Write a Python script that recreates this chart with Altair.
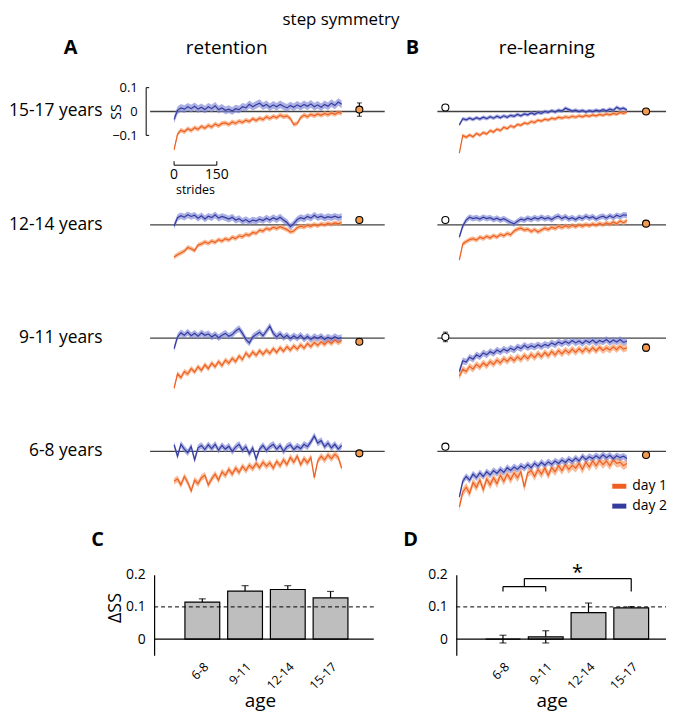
import altair as alt
import pandas as pd

FONT = "Open Sans"

# ---------------- data ----------------
STRIDES = list(range(0, 600, 12))          # sampled stride index
ROW_LABELS = ["15-17 years", "12-14 years", "9-11 years", "6-8 years"]
DAYS = ["day 1", "day 2"]
AGES = ["6-8", "9-11", "12-14", "15-17"]
SCALE_BAR = [0, 150]                        # strides scale bar ticks

# retention (panel A), rows top -> bottom
A1_D1 = [-0.160,-0.095,-0.078,-0.085,-0.072,-0.080,-0.068,-0.075,-0.062,-0.070,
         -0.058,-0.065,-0.052,-0.060,-0.050,-0.048,-0.055,-0.044,-0.050,-0.040,
         -0.046,-0.036,-0.042,-0.030,-0.038,-0.028,-0.034,-0.022,-0.030,-0.020,
         -0.026,-0.015,-0.022,-0.018,-0.030,-0.055,-0.050,-0.026,-0.015,-0.022,
         -0.012,-0.018,-0.010,-0.016,-0.008,-0.014,-0.006,-0.012,-0.004,-0.008]
A1_D2 = [-0.033,0.005,0.015,0.010,0.020,0.012,0.022,0.010,0.018,0.008,
         0.020,0.012,0.024,0.008,0.015,0.005,0.010,0.002,0.012,0.008,
         0.020,0.015,0.030,0.020,0.028,0.035,0.022,0.030,0.018,0.028,
         0.020,0.030,0.022,0.015,0.025,0.018,0.028,0.020,0.030,0.022,
         0.032,0.020,0.028,0.018,0.030,0.022,0.035,0.025,0.040,0.030]
A2_D1 = [-0.135,-0.125,-0.118,-0.110,-0.095,-0.100,-0.108,-0.085,-0.080,-0.072,
         -0.078,-0.068,-0.074,-0.062,-0.068,-0.058,-0.064,-0.052,-0.058,-0.046,
         -0.050,-0.040,-0.044,-0.032,-0.036,-0.022,-0.026,-0.015,-0.020,-0.010,
         -0.016,-0.008,-0.014,-0.020,-0.030,-0.026,-0.012,-0.006,-0.010,-0.002,
         -0.006,0.002,-0.004,0.004,0.000,0.006,0.002,0.008,0.004,0.010]
A2_D2 = [-0.005,0.030,0.038,0.032,0.042,0.035,0.040,0.028,0.038,0.025,
         0.036,0.030,0.042,0.028,0.035,0.030,0.024,0.032,0.020,0.026,
         0.015,0.022,0.012,0.020,0.016,0.024,0.018,0.028,0.020,0.030,
         0.022,0.032,0.020,0.010,-0.008,0.005,0.022,0.030,0.025,0.035,
         0.028,0.040,0.030,0.036,0.028,0.034,0.030,0.036,0.030,0.034]
A3_D1 = [-0.210,-0.150,-0.165,-0.140,-0.150,-0.128,-0.142,-0.120,-0.135,-0.112,
         -0.128,-0.105,-0.120,-0.098,-0.115,-0.092,-0.105,-0.085,-0.098,-0.075,
         -0.090,-0.062,-0.078,-0.058,-0.072,-0.052,-0.068,-0.050,-0.064,-0.044,
         -0.060,-0.040,-0.055,-0.036,-0.050,-0.032,-0.046,-0.028,-0.042,-0.022,
         -0.036,-0.018,-0.030,-0.015,-0.026,-0.012,-0.022,-0.008,-0.018,-0.010]
A3_D2 = [-0.044,0.005,0.022,0.012,0.025,0.010,0.020,0.008,0.022,0.012,
         0.018,0.005,0.015,0.002,0.012,0.020,0.008,0.015,0.030,0.040,
         0.020,-0.005,-0.020,0.005,0.015,0.025,0.010,0.030,0.050,0.020,
         0.005,0.018,0.002,0.012,-0.002,0.010,0.000,0.012,-0.004,0.008,
         -0.006,0.006,-0.002,0.008,-0.006,0.004,-0.004,0.006,-0.002,0.002]
A4_D1 = [-0.125,-0.115,-0.140,-0.105,-0.130,-0.165,-0.120,-0.135,-0.110,-0.100,
         -0.140,-0.115,-0.095,-0.120,-0.085,-0.100,-0.075,-0.095,-0.070,-0.088,
         -0.062,-0.080,-0.058,-0.072,-0.050,-0.068,-0.045,-0.062,-0.048,-0.070,
         -0.042,-0.060,-0.035,-0.055,-0.025,-0.045,-0.020,-0.055,-0.030,-0.048,
         -0.025,-0.110,-0.040,-0.020,-0.035,-0.015,-0.030,-0.012,-0.025,-0.070]
A4_D2 = [0.028,-0.020,0.030,0.010,-0.005,0.020,-0.035,0.015,0.025,0.008,
         0.028,0.012,0.030,0.005,0.025,0.010,0.022,0.000,0.018,0.030,
         0.005,0.020,-0.010,0.015,-0.032,0.010,0.025,0.005,0.020,0.030,
         0.010,0.025,0.000,0.020,0.028,0.008,0.022,0.012,0.030,0.020,
         0.040,0.065,0.035,0.045,0.020,0.035,0.015,0.030,0.010,0.025]

# re-learning (panel B), rows top -> bottom
B1_D1 = [-0.174,-0.100,-0.108,-0.098,-0.106,-0.092,-0.100,-0.088,-0.094,-0.080,
         -0.086,-0.074,-0.080,-0.066,-0.072,-0.060,-0.066,-0.054,-0.058,-0.048,
         -0.052,-0.042,-0.046,-0.036,-0.040,-0.032,-0.036,-0.028,-0.032,-0.024,
         -0.028,-0.022,-0.026,-0.020,-0.024,-0.018,-0.022,-0.016,-0.020,-0.014,
         -0.018,-0.012,-0.016,-0.010,-0.014,-0.008,-0.012,-0.004,-0.008,-0.002]
B1_D2 = [-0.056,-0.030,-0.035,-0.028,-0.034,-0.026,-0.032,-0.024,-0.030,-0.022,
         -0.028,-0.020,-0.026,-0.018,-0.024,-0.016,-0.020,-0.012,-0.018,-0.010,
         -0.014,-0.006,-0.012,-0.004,-0.008,0.000,-0.004,0.004,-0.002,0.006,
         0.002,0.014,0.008,0.002,0.006,0.000,0.005,-0.002,0.004,0.000,
         0.006,0.002,0.008,0.003,0.010,0.005,0.018,0.010,0.014,0.006]
B2_D1 = [-0.147,-0.080,-0.070,-0.062,-0.058,-0.064,-0.052,-0.058,-0.048,-0.055,
         -0.045,-0.052,-0.040,-0.046,-0.036,-0.042,-0.026,-0.018,-0.014,-0.022,
         -0.018,-0.028,-0.020,-0.030,-0.022,-0.014,-0.020,-0.010,-0.016,-0.006,
         -0.012,-0.004,-0.010,-0.002,-0.008,0.000,-0.006,0.002,-0.004,0.004,
         -0.002,0.006,0.000,0.008,0.002,0.012,0.004,0.016,0.008,0.018]
B2_D2 = [-0.051,-0.005,0.020,0.032,0.026,0.030,0.024,0.032,0.026,0.030,
         0.022,0.028,0.020,0.026,0.018,0.010,0.004,0.015,0.024,0.020,
         0.028,0.022,0.030,0.024,0.032,0.025,0.030,0.022,0.032,0.036,
         0.026,0.034,0.024,0.030,0.022,0.032,0.026,0.036,0.028,0.034,
         0.024,0.032,0.036,0.028,0.038,0.030,0.040,0.034,0.042,0.040]
B3_D1 = [-0.160,-0.130,-0.140,-0.118,-0.130,-0.110,-0.122,-0.104,-0.116,-0.098,
         -0.110,-0.092,-0.104,-0.086,-0.098,-0.082,-0.094,-0.078,-0.090,-0.072,
         -0.086,-0.068,-0.082,-0.064,-0.078,-0.060,-0.074,-0.056,-0.070,-0.052,
         -0.066,-0.050,-0.062,-0.046,-0.060,-0.044,-0.058,-0.042,-0.056,-0.040,
         -0.054,-0.038,-0.052,-0.040,-0.050,-0.036,-0.048,-0.034,-0.046,-0.040]
B3_D2 = [-0.140,-0.095,-0.100,-0.080,-0.088,-0.070,-0.078,-0.062,-0.070,-0.056,
         -0.064,-0.050,-0.058,-0.046,-0.054,-0.042,-0.050,-0.036,-0.044,-0.030,
         -0.040,-0.032,-0.038,-0.028,-0.036,-0.026,-0.032,-0.020,-0.028,-0.016,
         -0.024,-0.014,-0.022,-0.010,-0.020,-0.012,-0.022,-0.010,-0.018,-0.008,
         -0.020,-0.010,-0.016,-0.006,-0.018,-0.008,-0.016,-0.006,-0.018,-0.012]
B4_D1 = [-0.232,-0.170,-0.150,-0.175,-0.130,-0.150,-0.120,-0.160,-0.115,-0.140,
         -0.110,-0.135,-0.100,-0.125,-0.095,-0.118,-0.090,-0.110,-0.085,-0.150,
         -0.090,-0.080,-0.105,-0.075,-0.095,-0.070,-0.100,-0.068,-0.085,-0.060,
         -0.080,-0.055,-0.075,-0.058,-0.070,-0.050,-0.075,-0.045,-0.065,-0.040,
         -0.060,-0.038,-0.055,-0.040,-0.060,-0.035,-0.050,-0.045,-0.060,-0.050]
B4_D2 = [-0.190,-0.125,-0.105,-0.120,-0.095,-0.110,-0.090,-0.105,-0.085,-0.098,
         -0.080,-0.092,-0.075,-0.088,-0.068,-0.080,-0.065,-0.075,-0.060,-0.070,
         -0.055,-0.068,-0.050,-0.062,-0.046,-0.058,-0.044,-0.054,-0.040,-0.050,
         -0.036,-0.046,-0.032,-0.042,-0.028,-0.040,-0.020,-0.034,-0.022,-0.030,
         -0.018,-0.028,-0.014,-0.026,-0.016,-0.030,-0.018,-0.026,-0.020,-0.030]

# shaded band half-widths (s.e.)
A_SE1 = [0.010, 0.010, 0.012, 0.014]
A_SE2 = [0.016, 0.014, 0.014, 0.014]
B_SE1 = [0.008, 0.010, 0.014, 0.018]
B_SE2 = [0.008, 0.012, 0.014, 0.014]

# markers: plateau (filled) and baseline (open) with error
A_END = [0.008, 0.020, -0.015, -0.008]
A_END_ERR = [0.028, 0.010, 0.006, 0.006]
B_END = [0.000, 0.005, -0.040, -0.015]
B_END_ERR = [0.006, 0.010, 0.015, 0.008]
B_START = [0.017, 0.020, 0.005, 0.020]
B_START_ERR = [0.004, 0.004, 0.020, 0.004]

# delta SS bars
C_MEAN = [0.115, 0.149, 0.154, 0.128]
C_ERR = [0.010, 0.017, 0.012, 0.020]
D_MEAN = [0.000, 0.007, 0.082, 0.097]
D_ERR = [0.012, 0.019, 0.030, 0.004]

A_DAY1 = [A1_D1, A2_D1, A3_D1, A4_D1]
A_DAY2 = [A1_D2, A2_D2, A3_D2, A4_D2]
B_DAY1 = [B1_D1, B2_D1, B3_D1, B4_D1]
B_DAY2 = [B1_D2, B2_D2, B3_D2, B4_D2]

# ---------------- style / layout ----------------
ORANGE = "#EE5F22"
BLUE = "#353B9C"
ORANGE_BAND = "#F69A62"
BLUE_BAND = "#7C84D6"
DOT_FILL = "#F39A4E"
ZERO_COL = "#404040"

W_A, W_B, H_ROW = 240, 230, 114
A_DOM = [-98, 739]
B_DOM = [-77, 725]
Y_DOM = [-0.2375, 0.2375]
A_END_X, B_END_X, B_START_X = 650, 655, -49

COLOR = alt.Color("day:N", scale=alt.Scale(domain=DAYS, range=[ORANGE, BLUE]),
                  legend=alt.Legend(title=None))


def series_frame(d1, d2, se1, se2):
    recs = []
    for day, vals, se in (("day 1", d1, se1), ("day 2", d2, se2)):
        for s, v in zip(STRIDES, vals):
            recs.append({"stride": s, "day": day, "ss": v, "lo": v - se, "hi": v + se})
    return pd.DataFrame(recs)


def row_chart(panel, i):
    if panel == "A":
        df = series_frame(A_DAY1[i], A_DAY2[i], A_SE1[i], A_SE2[i])
        dom, width = A_DOM, W_A
    else:
        df = series_frame(B_DAY1[i], B_DAY2[i], B_SE1[i], B_SE2[i])
        dom, width = B_DOM, W_B
    xs = alt.Scale(domain=dom, nice=False, zero=False)
    ys = alt.Scale(domain=Y_DOM, nice=False, zero=False)
    if panel == "A" and i == 0:
        yaxis = alt.Axis(values=[0.1, 0, -0.1], format="~g", domain=False, ticks=False,
                         grid=False, labelPadding=9, labelFontSize=13, title="SS",
                         titleFontSize=14, titleFontWeight="normal", titleAngle=270,
                         titleX=-30, titleY=57, titleAlign="center", titleBaseline="middle")
    else:
        yaxis = None

    def X(f):
        return alt.X(f, type="quantitative", scale=xs, axis=None)

    def Y(f):
        return alt.Y(f, type="quantitative", scale=ys, axis=yaxis)

    layers = []
    zdf = pd.DataFrame({"z": [0.0]})
    layers.append(alt.Chart(zdf).mark_rule(color=ZERO_COL, strokeWidth=1.3).encode(
        y=Y("z"), x=alt.value(4 if panel == "A" else 0), x2=alt.value(width)))
    for day, fill in (("day 1", ORANGE_BAND), ("day 2", BLUE_BAND)):
        layers.append(alt.Chart(df[df["day"] == day]).mark_area(color=fill, opacity=0.65).encode(
            x=X("stride"), y=Y("lo"), y2="hi"))
    layers.append(alt.Chart(df).mark_line(strokeWidth=1.2).encode(
        x=X("stride"), y=Y("ss"), color=COLOR))

    marks = []
    if panel == "A":
        marks.append((A_END_X, A_END[i], A_END_ERR[i], DOT_FILL))
    else:
        marks.append((B_END_X, B_END[i], B_END_ERR[i], DOT_FILL))
        marks.append((B_START_X, B_START[i], B_START_ERR[i], "white"))
    for xv, m, e, fill in marks:
        mdf = pd.DataFrame({"x": [xv], "m": [m], "lo": [m - e], "hi": [m + e]})
        layers.append(alt.Chart(mdf).mark_rule(color="black", strokeWidth=1.1).encode(
            x=X("x"), y=Y("lo"), y2="hi"))
        for f in ("lo", "hi"):
            layers.append(alt.Chart(mdf).mark_tick(orient="horizontal", color="black",
                                                   thickness=1.1, size=5).encode(x=X("x"), y=Y(f)))
        layers.append(alt.Chart(mdf).mark_point(shape="circle", filled=True, fill=fill,
                                                stroke="black", strokeWidth=1.1, size=50,
                                                opacity=1).encode(x=X("x"), y=Y("m")))

    if panel == "A":
        layers.append(alt.Chart(pd.DataFrame({"t": [ROW_LABELS[i]], "z": [0.0]})).mark_text(
            align="right", baseline="middle", dx=-44, fontSize=17.5).encode(
            x=alt.value(0), y=Y("z"), text="t:N"))
    if panel == "A" and i == 0:
        # y-axis bracket
        bdf = pd.DataFrame({"lo": [-0.1], "hi": [0.1]})
        layers.append(alt.Chart(bdf).mark_rule(color="black", strokeWidth=1).encode(
            x=alt.value(0), y=Y("lo"), y2="hi"))
        ndf = pd.DataFrame({"yv": [0.1, -0.1]})
        layers.append(alt.Chart(ndf).mark_rule(color="black", strokeWidth=1).encode(
            x=alt.value(0), x2=alt.value(3), y=Y("yv")))
        # strides scale bar
        sb = pd.DataFrame({"a": [SCALE_BAR[0]], "b": [SCALE_BAR[1]]})
        layers.append(alt.Chart(sb).mark_rule(color="black", strokeWidth=1).encode(
            x=X("a"), x2="b", y=alt.value(111)))
        st = pd.DataFrame({"s": SCALE_BAR, "t": [str(v) for v in SCALE_BAR]})
        layers.append(alt.Chart(st).mark_rule(color="black", strokeWidth=1).encode(
            x=X("s"), y=alt.value(107), y2=alt.value(111)))
        layers.append(alt.Chart(st).mark_text(fontSize=14, baseline="middle").encode(
            x=X("s"), y=alt.value(121), text="t:N"))
        sl = pd.DataFrame({"s": [sum(SCALE_BAR) / 2], "t": ["strides"]})
        layers.append(alt.Chart(sl).mark_text(fontSize=12.5, baseline="middle").encode(
            x=X("s"), y=alt.value(136), text="t:N"))
        # figure title
        layers.append(alt.Chart(pd.DataFrame({"t": ["step symmetry"]})).mark_text(
            fontSize=17, baseline="middle").encode(
            x=alt.value(196), y=alt.value(-35), text="t:N"))
    if i == 0:
        letter, head, lx, hx = ("A", "retention", -76, 81) if panel == "A" else ("B", "re-learning", -25, 110)
        layers.append(alt.Chart(pd.DataFrame({"t": [letter]})).mark_text(
            fontSize=20, fontWeight="bold", baseline="middle").encode(
            x=alt.value(lx), y=alt.value(-7), text="t:N"))
        layers.append(alt.Chart(pd.DataFrame({"t": [head]})).mark_text(
            fontSize=19, baseline="middle").encode(
            x=alt.value(hx), y=alt.value(-7), text="t:N"))
    return alt.layer(*layers).properties(width=width, height=H_ROW)


def bar_chart(means, errs, letter, width, ax_off, p_outer, p_align, ytitle, bracket):
    df = pd.DataFrame({"age": AGES, "m": means,
                       "lo": [m - e for m, e in zip(means, errs)],
                       "hi": [m + e for m, e in zip(means, errs)],
                       "base": [0.0] * 4})
    xs = alt.Scale(domain=AGES, paddingInner=0.186, paddingOuter=p_outer, align=p_align)
    ys = alt.Scale(domain=[-0.05, 0.2], nice=False, zero=False)
    xaxis = alt.Axis(title="age", labelAngle=315, labelAlign="right", labelBaseline="top",
                     labelPadding=5, ticks=False, domain=False, labelFontSize=12.5,
                     titleFontSize=19, titleFontWeight="normal", titlePadding=0)
    yargs = dict(values=[0, 0.1, 0.2], format="~g", ticks=False, domain=True,
                 domainColor="black", domainWidth=1.2, grid=False, labelPadding=9,
                 labelFontSize=14, offset=-ax_off)
    if ytitle:
        yaxis = alt.Axis(title=ytitle, titleFontSize=18, titleFontWeight="normal",
                         titleAngle=270, titleX=-39, titleY=33, titleAlign="center",
                         titleBaseline="middle", **yargs)
    else:
        yaxis = alt.Axis(title=None, **yargs)

    def X(f):
        return alt.X(f, type="nominal", scale=xs, axis=xaxis, sort=AGES)

    def Y(f):
        return alt.Y(f, type="quantitative", scale=ys, axis=yaxis)

    base = alt.Chart(df)
    layers = [
        base.mark_rule(color="black", strokeWidth=1.2).encode(x=X("age"), y=Y("lo"), y2="hi"),
        base.mark_tick(color="black", thickness=1.2, size=7).encode(x=X("age"), y=Y("hi")),
        base.mark_tick(color="black", thickness=1.2, size=7).encode(x=X("age"), y=Y("lo")),
        base.mark_bar(fill="#BEBEBE", stroke="black", strokeWidth=1.2).encode(
            x=X("age"), y=Y("m"), y2="base"),
        alt.Chart(pd.DataFrame({"v": [0.1]})).mark_rule(color="black", strokeWidth=1,
                                                        strokeDash=[4, 3]).encode(
            y=Y("v"), x=alt.value(ax_off), x2=alt.value(width)),
        alt.Chart(pd.DataFrame({"v": [0.0]})).mark_rule(color="black", strokeWidth=1.3).encode(
            y=Y("v"), x=alt.value(ax_off), x2=alt.value(width)),
        alt.Chart(pd.DataFrame({"t": [letter]})).mark_text(
            fontSize=20, fontWeight="bold", baseline="middle").encode(
            x=alt.value(-49 if letter == "C" else -27), y=alt.value(-35), text="t:N"),
    ]
    if bracket:
        half = 21.5
        h1 = pd.DataFrame({"a": ["6-8"], "b": ["9-11"], "v": [0.163]})
        layers.append(alt.Chart(h1).mark_rule(color="black", strokeWidth=1.2).encode(
            x=X("a"), x2="b", y=Y("v")))
        v1 = pd.DataFrame({"a": ["6-8", "9-11"], "lo": [0.148, 0.148], "hi": [0.163, 0.163]})
        layers.append(alt.Chart(v1).mark_rule(color="black", strokeWidth=1.2).encode(
            x=X("a"), y=Y("lo"), y2="hi"))
        v2 = pd.DataFrame({"a": ["6-8"], "lo": [0.163], "hi": [0.188]})
        layers.append(alt.Chart(v2).mark_rule(color="black", strokeWidth=1.2, xOffset=half).encode(
            x=X("a"), y=Y("lo"), y2="hi"))
        h2 = pd.DataFrame({"a": ["6-8"], "b": ["15-17"], "v": [0.188]})
        layers.append(alt.Chart(h2).mark_rule(color="black", strokeWidth=1.2, xOffset=half).encode(
            x=X("a"), x2="b", y=Y("v")))
        v3 = pd.DataFrame({"a": ["15-17"], "lo": [0.148], "hi": [0.188]})
        layers.append(alt.Chart(v3).mark_rule(color="black", strokeWidth=1.2).encode(
            x=X("a"), y=Y("lo"), y2="hi"))
        st = pd.DataFrame({"a": ["12-14"], "t": ["*"], "v": [0.205]})
        layers.append(alt.Chart(st).mark_text(fontSize=20, dx=-11, baseline="middle").encode(
            x=X("a"), y=Y("v"), text="t:N"))
    return alt.layer(*layers).properties(width=width, height=81)


spacer = alt.Chart(pd.DataFrame({"s": [0]})).mark_point(opacity=0).encode(
    x=alt.X("s:Q", axis=None), y=alt.Y("s:Q", axis=None)).properties(width=1, height=67)
C = bar_chart(C_MEAN, C_ERR, "C", 229, 8, 0.756, 0.6, "ΔSS", False)
D = bar_chart(D_MEAN, D_ERR, "D", 230, 19, 0.767, 0.735, None, True)

cells = []
for i in range(4):
    cells.append(row_chart("A", i))
    cells.append(row_chart("B", i))
cells += [spacer, spacer, C, D]

chart = alt.concat(*cells, columns=2, spacing={"row": 0, "column": 53}, bounds="flush").properties(
    padding={"top": 1, "left": 0, "right": 0, "bottom": 0},
).configure(font=FONT).configure_view(stroke=None).configure_axis(
    labelColor="black", titleColor="black", labelFont=FONT, titleFont=FONT
).configure_legend(
    orient="none", legendX=466, legendY=424, labelFontSize=14, labelColor="black",
    symbolType="stroke", symbolStrokeWidth=5, symbolSize=200, labelOffset=3, rowPadding=0,
)

chart.save("out.html", embed_options={"renderer": "svg", "actions": False})
